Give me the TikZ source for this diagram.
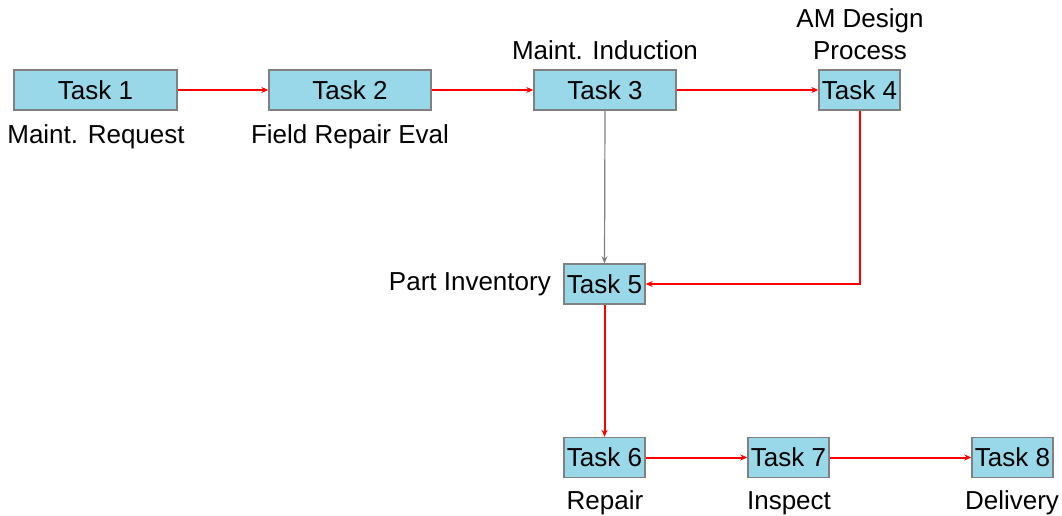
\documentclass[tikz,border=0pt]{standalone}
\usepackage{fontspec}
\setmainfont{Liberation Sans}
\usetikzlibrary{arrows.meta}
\definecolor{boxfill}{RGB}{152,216,232}
\definecolor{boxline}{RGB}{128,128,128}
\definecolor{flowred}{RGB}{255,0,0}
\tikzset{
  taskbox/.style={draw=boxline, line width=1.4pt, fill=boxfill, inner sep=0pt,
    minimum height=40pt, font=\fontsize{26}{30}\selectfont},
  caption/.style={inner sep=0pt, font=\fontsize{26}{30}\selectfont},
  flow/.style={draw=flowred, line width=2pt, -{Stealth[length=7pt,width=6pt]}},
  feed/.style={draw=boxline, line width=1.2pt, -{Stealth[length=7pt,width=6pt]}}
}
\begin{document}
\begin{tikzpicture}[x=1pt,y=-1pt]
\path[use as bounding box] (0,0) rectangle (1062,516);

% task boxes
\node[taskbox, minimum width=163pt] (t1) at (95.5,90) {Task 1};
\node[taskbox, minimum width=162pt] (t2) at (350,90) {Task 2};
\node[taskbox, minimum width=142pt] (t3) at (605,90) {Task 3};
\node[taskbox, minimum width=81pt]  (t4) at (859.5,90) {Task 4};
\node[taskbox, minimum width=81pt]  (t5) at (604.5,284) {Task 5};
\node[taskbox, minimum width=81pt]  (t6) at (604.5,457.5) {Task 6};
\node[taskbox, minimum width=81pt]  (t7) at (788.5,457.5) {Task 7};
\node[taskbox, minimum width=81pt]  (t8) at (1012.5,457.5) {Task 8};

% captions
\node[caption, anchor=base] (c1) at (96,143) {Maint. Request};
\node[caption, anchor=base] (c2) at (350,143) {Field Repair Eval};
\node[caption, anchor=base] (c3) at (605,60) {Maint. Induction};
\node[caption, anchor=base] (c4a) at (860,28) {AM Design};
\node[caption, anchor=base] (c4b) at (860,60) {Process};
\node[caption, anchor=base east] (c5) at (551,290) {Part Inventory};
\node[caption, anchor=base] (c6) at (605,509) {Repair};
\node[caption, anchor=base] (c7) at (789,509) {Inspect};
\node[caption, anchor=base] (c8) at (1012,509) {Delivery};

% connectors
\draw[flow] (t1.east) -- (t2.west);
\draw[flow] (t2.east) -- (t3.west);
\draw[flow] (t3.east) -- (t4.west);
\draw[feed] (t3.south) -- (t5.north);
\draw[flow] (t4.south) |- (t5.east);
\draw[flow] (t5.south) -- (t6.north);
\draw[flow] (t6.east) -- (t7.west);
\draw[flow] (t7.east) -- (t8.west);
\end{tikzpicture}
\end{document}
